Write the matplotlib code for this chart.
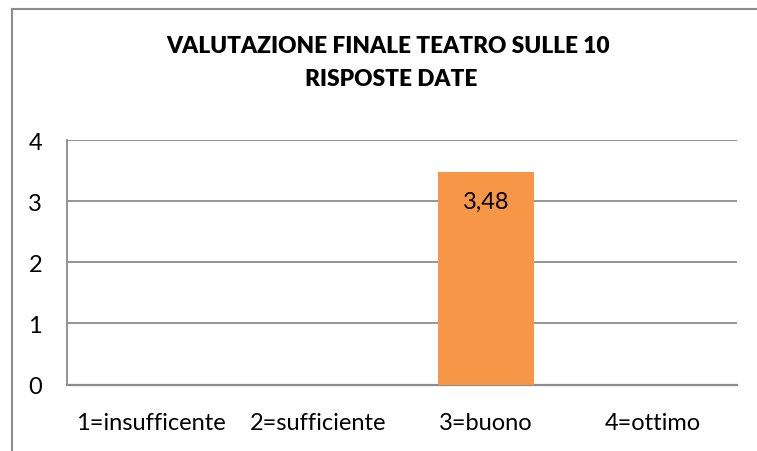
import matplotlib
matplotlib.use("Agg")
import matplotlib.pyplot as plt
from matplotlib.lines import Line2D

categories = ["1=insufficente", "2=sufficiente", "3=buono", "4=ottimo"]
values = [0, 0, 3.48, 0]
value_labels = ["", "", "3,48", ""]
y_ticks = [0, 1, 2, 3, 4]
title_lines = ["VALUTAZIONE FINALE TEATRO SULLE 10", "RISPOSTE DATE"]

plt.rcParams['font.family'] = ['Lato', 'DejaVu Sans']

W, H = 757, 452
fig = plt.figure(figsize=(W / 100, H / 100), dpi=100)
ax = fig.add_axes([67 / W, 1 - 385.5 / H, (737 - 67) / W, (385.5 - 141) / H])

x = list(range(len(categories)))
ax.bar(x, values, width=0.575, color="#F79646", zorder=3)
for xi, v, lab in zip(x, values, value_labels):
    if lab:
        ax.annotate(lab, (xi, v), xytext=(0, -21.6), textcoords="offset points",
                    ha="center", va="center", fontsize=17, color="black", zorder=4)

ax.set_xlim(-0.5, len(categories) - 0.5)
ax.set_ylim(0, 4)
ax.set_yticks(y_ticks)
ax.set_xticks(x)
ax.set_xticklabels(categories)
ax.tick_params(axis="both", length=0, labelsize=17, colors="black")
ax.tick_params(axis="y", pad=18)
ax.tick_params(axis="x", pad=20)
ax.yaxis.grid(True, color="#8C8C8C", linewidth=1.3, zorder=0)
ax.set_axisbelow(True)
for s in ["top", "right"]:
    ax.spines[s].set_visible(False)
ax.spines["left"].set_color("#8C8C8C")
ax.spines["left"].set_linewidth(1.3)
ax.spines["bottom"].set_color("#8C8C8C")
ax.spines["bottom"].set_linewidth(1.6)

fig.text(388.5 / W, 1 - 46.5 / H, title_lines[0], ha="center", va="center",
         fontsize=16.3, fontweight="heavy")
fig.text(391 / W, 1 - 79.5 / H, title_lines[1], ha="center", va="center",
         fontsize=16.3, fontweight="heavy")

# outer chart border (cropped at right and bottom)
fig.add_artist(Line2D([11.5 / W, 11.5 / W], [0, 1 - 9.5 / H], transform=fig.transFigure,
                      color="#8C8C8C", linewidth=1.5))
fig.add_artist(Line2D([11.5 / W, 1], [1 - 9.5 / H, 1 - 9.5 / H], transform=fig.transFigure,
                      color="#8C8C8C", linewidth=1.5))

fig.savefig("out.png", dpi=100)
